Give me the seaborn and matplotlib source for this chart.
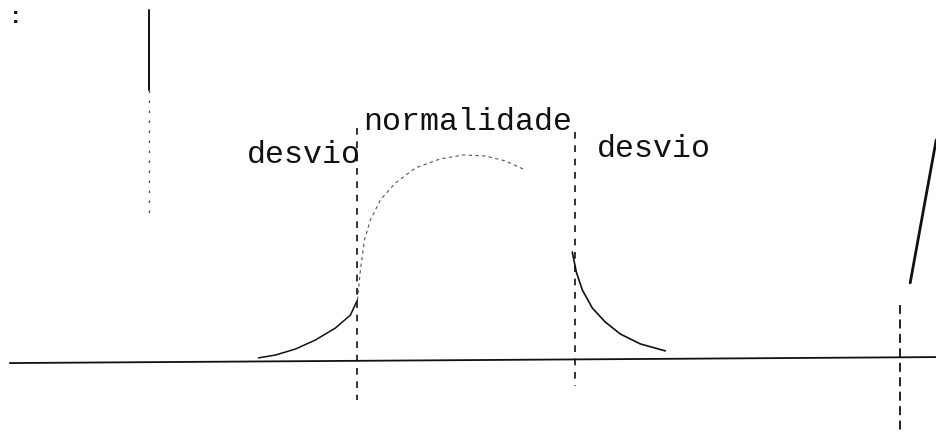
import numpy as np
import pandas as pd
import matplotlib
matplotlib.use("Agg")
import matplotlib.pyplot as plt
import seaborn as sns

# Bell-shaped curve, split into its three traced pieces (x in deviation units, y relative height)
left_tail_x = [-1.908, -1.752, -1.569, -1.385, -1.202, -1.064, -1.0]
left_tail_y = [0.015, 0.029, 0.058, 0.102, 0.160, 0.223, 0.296]

crest_x = [-1.0, -0.972, -0.936, -0.881, -0.789, -0.651, -0.468, -0.239, -0.028, 0.174, 0.358, 0.541]
crest_y = [0.296, 0.442, 0.587, 0.684, 0.782, 0.864, 0.937, 0.981, 1.0, 0.995, 0.971, 0.927]

right_tail_x = [0.972, 1.009, 1.064, 1.156, 1.275, 1.413, 1.596, 1.826]
right_tail_y = [0.529, 0.432, 0.345, 0.257, 0.189, 0.131, 0.083, 0.049]

# Limits of the normal zone
limit_x = [-1.0, 1.0]
limit_top = [1.13, 1.11]
limit_bottom = [-0.19, -0.12]

# Horizontal reference line
base_x = [-4.19, 4.31]
base_y = [-0.010, 0.019]

# Zone labels
labels = ["desvio", "normalidade", "desvio"]
label_x = [-2.01, -0.95, 1.20]
label_y = [0.96, 1.12, 0.99]

# Other strokes on the sheet
side_x = [-2.917, -2.917]
side_solid_y = [1.704, 1.316]
side_dotted_y = [1.316, 0.684]
edge_x = [3.98, 3.98]
edge_y = [0.272, -0.335]
slash_x = [4.073, 4.312]
slash_y = [0.379, 1.073]

sns.set_theme(style="white")
plt.rcParams["font.family"] = ["Liberation Mono", "DejaVu Sans Mono"]

fig = plt.figure(figsize=(9.36, 4.36), dpi=100)
ax = fig.add_axes([0, 0, 1, 1])
ax.set_xlim(-4.28, 4.31)
ax.set_ylim(-0.364, 1.752)
ax.axis("off")

ink = "#111111"


def stroke(xs, ys, color=ink, lw=1.2, ls="-"):
    sns.lineplot(x=xs, y=ys, ax=ax, color=color, lw=lw, sort=False,
                 estimator=None, errorbar=None)
    ax.lines[-1].set_linestyle(ls)


stroke(base_x, base_y, lw=1.3)

stroke(left_tail_x, left_tail_y, lw=1.1)
stroke(crest_x, crest_y, color="#555555", lw=0.8, ls=(0, (3, 3)))
stroke(right_tail_x, right_tail_y, lw=1.2)

for lx, top, bot in zip(limit_x, limit_top, limit_bottom):
    stroke([lx, lx], [top, bot], lw=1.2, ls=(0, (4, 4)))

stroke(side_x, side_solid_y, lw=1.4)
stroke(side_x, side_dotted_y, color="#444444", lw=0.9, ls=(0, (2, 6)))
stroke(edge_x, edge_y, lw=1.3, ls=(0, (5, 3)))
stroke(slash_x, slash_y, lw=2.0)

for text, tx, ty in zip(labels, label_x, label_y):
    ax.text(tx, ty, text, fontsize=22.8, color=ink, ha="left", va="baseline")

ax.text(0.010, 0.985, ":", transform=ax.transAxes, fontsize=16, fontweight="bold",
        color=ink, ha="left", va="top")

fig.savefig("out.png", dpi=100)
